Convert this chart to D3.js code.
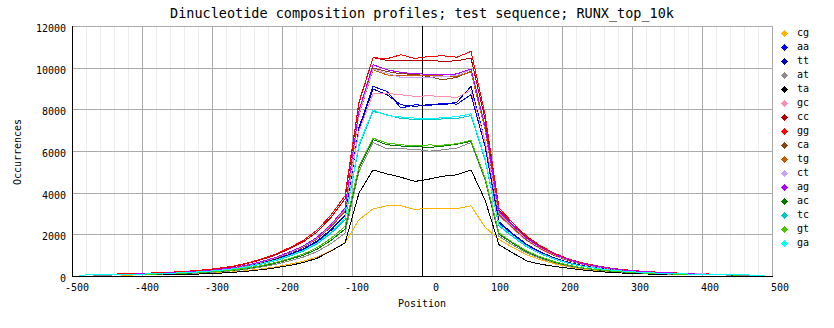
<!DOCTYPE html>
<html>
<head>
<meta charset="utf-8">
<script src="https://cdn.jsdelivr.net/npm/d3@7"></script>
<style>
  html, body { margin: 0; padding: 0; background: #ffffff; }
  svg { display: block; }
  text { font-family: "DejaVu Sans Mono", "Liberation Mono", monospace; fill: #000; }
</style>
</head>
<body>
<svg id="chart" width="834" height="328"></svg>
<script>
// Window centres (bp relative to the peak summit)
const positions = [-490, -470, -450, -430, -410, -390, -370, -350, -330, -310,
                   -290, -270, -250, -230, -210, -190, -170, -150, -130, -110,
                   -90, -70, -50, -30, -10, 10, 30, 50, 70, 90,
                   110, 130, 150, 170, 190, 210, 230, 250, 270, 290,
                   310, 330, 350, 370, 390, 410, 430, 450, 470, 490];

// Dinucleotide names, in legend order
const dinucleotides = ["cg", "aa", "tt", "at", "ta", "gc", "cc", "gg", "ca", "tg", "ct", "ag", "ac", "tc", "gt", "ga"];
const seriesColors = ["#ffb400", "#0000ff", "#0000b4", "#8c8c8c", "#000000", "#ff8cb4", "#b40000", "#ff0000",
                      "#8c4614", "#c85a00", "#c8a0ff", "#b400ff", "#007800", "#00c8c8", "#46c800", "#00ffff"];

// Occurrences per window (null = no occurrence counted)
const cg = [null, null, null, 42, 48, 58, 69, 83, 101, 125, 155, 195, 256, 336, 432, 560, 704, 912, 1216,
            1600, 2700, 3220, 3370, 3370, 3190, 3260, 3260, 3230, 3370, 2350, 1750,
            1365, 1015, 770, 578, 438, 333, 263, 201, 161, 130, 105, null, null, null, null, null, null, null, null];
const aa = [null, null, 65, 76, 88, 106, 126, 153, 185, 229, 285, 359, 470, 617, 794, 1029, 1294, 1676, 2234,
            2940, 7129, 9100, 8860, 8060, 8220, 8180, 8300, 8250, 8700, 6236, 2540,
            1981, 1473, 1118, 838, 635, 483, 381, 292, 234, 188, 152, 127, 107, 91, 76, 66, 56, null, null];
const tt = [null, null, 63, 75, 86, 104, 124, 150, 181, 225, 279, 351, 461, 605, 778, 1008, 1267, 1642, 2189,
            2880, 7028, 8980, 8700, 8220, 8140, 8230, 8210, 8350, 9100, 6500, 2600,
            2028, 1508, 1144, 858, 650, 494, 390, 299, 239, 192, 156, 130, 109, 94, 78, 68, 57, null, null];
const at = [null, 39, 45, 53, 62, 74, 88, 107, 129, 160, 199, 250, 328, 431, 554, 718, 902, 1169, 1558,
            2050, 5015, 6410, 6100, 6100, 6090, 5990, 6060, 6140, 6410, 4606, 1900,
            1482, 1102, 836, 627, 475, 361, 285, 219, 175, 141, 114, 95, 80, 68, 57, 49, 42, 36, 30];
const ta = [null, null, null, null, null, null, 58, 70, 85, 105, 135, 175, 230, 300, 390, 500, 640, 850, 1200,
            1580, 3984, 5090, 4900, 4740, 4540, 4650, 4790, 4860, 5090, 3654, 1500,
            1100, 720, 560, 460, 370, 285, 220, 170, 135, 108, 88, 72, null, null, null, null, null, null, null];
const gc = [null, null, 69, 82, 95, 113, 135, 164, 198, 246, 306, 384, 504, 662, 851, 1103, 1386, 1796, 2394,
            3150, 6951, 8740, 8760, 8700, 8620, 8650, 8620, 8570, 8900, 6500, 2900,
            2262, 1682, 1276, 957, 725, 551, 435, 334, 267, 215, 174, 145, 122, 104, 87, 75, 64, null, null];
const cc = [null, null, null, 96, 111, 133, 159, 192, 233, 289, 359, 451, 592, 777, 999, 1295, 1628, 2109, 2812,
            3700, 8310, 10480, 10350, 10330, 10330, 10360, 10300, 10330, 10460, 7536, 3150,
            2457, 1827, 1386, 1040, 788, 599, 473, 362, 290, 233, 189, 158, 132, 113, null, null, null, null, null];
const gg = [null, null, 85, 100, 116, 139, 166, 200, 243, 300, 373, 470, 616, 809, 1040, 1348, 1694, 2195, 2926,
            3850, 8358, 10480, 10430, 10620, 10440, 10540, 10570, 10500, 10780, 7772, 3260,
            2543, 1891, 1434, 1076, 815, 619, 489, 375, 300, 241, 196, 163, 137, 117, 98, null, null, null, null];
const ca = [null, null, 68, 81, 93, 112, 133, 161, 195, 242, 301, 378, 496, 651, 837, 1085, 1364, 1767, 2356,
            3100, 7778, 9980, 9820, 9700, 9690, 9560, 9420, 9540, 9820, 7072, 2950,
            2301, 1711, 1298, 974, 738, 561, 443, 339, 271, 218, 177, 148, 124, 106, 89, 77, 65, null, null];
const tg = [null, null, 69, 82, 95, 113, 135, 164, 198, 246, 306, 384, 504, 662, 851, 1103, 1386, 1796, 2394,
            3150, 7740, 9900, 9650, 9600, 9620, 9620, 9600, 9600, 9780, 7068, 3000,
            2340, 1740, 1320, 990, 750, 570, 450, 345, 276, 222, 180, 150, 126, 108, 90, 78, 66, null, null];
const ct = [null, null, 70, 83, 96, 115, 138, 166, 202, 250, 310, 390, 512, 672, 864, 1120, 1408, 1824, 2432,
            3200, 7783, 9940, 9740, 9530, 9530, 9540, 9580, 9620, 9900, 7160, 3050,
            2379, 1769, 1342, 1007, 763, 580, 458, 351, 281, 226, 183, 153, 128, 110, 92, 79, 67, null, null];
const ag = [null, null, null, null, 98, 117, 140, 170, 205, 254, 316, 398, 522, 685, 880, 1141, 1434, 1858, 2478,
            3260, 7938, 10140, 9900, 9770, 9710, 9680, 9660, 9700, 9940, 7204, 3100,
            2418, 1798, 1364, 1023, 775, 589, 465, 357, 285, 229, 186, 155, 130, 112, null, null, null, null, null];
const ac = [null, null, 50, 59, 68, 81, 97, 117, 142, 176, 218, 275, 360, 473, 608, 788, 990, 1283, 1710,
            2250, 5174, 6550, 6300, 6240, 6220, 6170, 6230, 6330, 6460, 4676, 2000,
            1560, 1160, 880, 660, 500, 380, 300, 230, 184, 148, 120, 100, 84, 72, 60, 52, 44, null, null];
const tc = [null, null, 59, 70, 81, 97, 116, 140, 170, 211, 262, 329, 432, 567, 729, 945, 1188, 1539, 2052,
            2700, 6236, 7900, 7740, 7560, 7520, 7500, 7540, 7560, 7700, 5580, 2400,
            1872, 1392, 1056, 792, 600, 456, 360, 276, 221, 178, 144, 120, 101, 86, 72, 62, 53, null, null];
const gt = [null, null, 52, 62, 71, 86, 102, 124, 150, 186, 231, 290, 381, 500, 643, 833, 1047, 1357, 1809,
            2380, 5263, 6620, 6380, 6300, 6250, 6290, 6280, 6350, 6510, 4730, 2060,
            1607, 1195, 906, 680, 515, 391, 309, 237, 190, 152, 124, 103, 87, 74, 62, 54, 45, null, null];
const ga = [44, 53, 61, 72, 83, 100, 120, 145, 175, 217, 270, 339, 445, 584, 751, 973, 1223, 1585, 2113,
            2780, 6316, 7980, 7700, 7630, 7580, 7540, 7600, 7650, 7790, 5658, 2460,
            1919, 1427, 1082, 812, 615, 467, 369, 283, 226, 182, 148, 123, 103, 89, 74, 64, 54, 47, 39];

const seriesValues = [cg, aa, tt, at, ta, gc, cc, gg, ca, tg, ct, ag, ac, tc, gt, ga];

// Axis ticks
const xTickValues = [-500, -400, -300, -200, -100, 0, 100, 200, 300, 400, 500];
const yTickValues = [0, 2000, 4000, 6000, 8000, 10000, 12000];

const titleText = "Dinucleotide composition profiles; test sequence; RUNX_top_10k";
const xLabel = "Position";
const yLabel = "Occurrences";

const svg = d3.select("#chart");
svg.append("rect").attr("width", 834).attr("height", 328).attr("fill", "#ffffff");

const x = d3.scaleLinear().domain([-500, 500]).range([72, 772]);
const y = d3.scaleLinear().domain([0, 12000]).range([276, 26]);

const grid = svg.append("g").attr("shape-rendering", "crispEdges");

// minor vertical grid every 20 bp
grid.selectAll("line.minor")
  .data(x.ticks(50).filter(v => v % 100 !== 0))
  .join("line")
  .attr("x1", d => Math.round(x(d)) + 0.5).attr("x2", d => Math.round(x(d)) + 0.5)
  .attr("y1", y(12000)).attr("y2", y(0))
  .attr("stroke", "#ececec").attr("stroke-width", 1);

// major grid
grid.selectAll("line.vmajor")
  .data(xTickValues.filter(v => v !== -500 && v !== 0))
  .join("line")
  .attr("x1", d => Math.round(x(d)) + 0.5).attr("x2", d => Math.round(x(d)) + 0.5)
  .attr("y1", y(12000)).attr("y2", y(0))
  .attr("stroke", "#aaaaaa").attr("stroke-width", 1);

grid.selectAll("line.hmajor")
  .data(yTickValues.filter(v => v !== 0))
  .join("line")
  .attr("x1", x(-500)).attr("x2", x(500))
  .attr("y1", d => Math.round(y(d)) + 0.5).attr("y2", d => Math.round(y(d)) + 0.5)
  .attr("stroke", "#aaaaaa").attr("stroke-width", 1);

// zero line
grid.append("line")
  .attr("x1", Math.round(x(0)) + 0.5).attr("x2", Math.round(x(0)) + 0.5)
  .attr("y1", y(12000)).attr("y2", y(0))
  .attr("stroke", "#000").attr("stroke-width", 1);

// profiles
const line = d3.line()
  .defined(d => d !== null)
  .x((d, i) => x(positions[i]))
  .y(d => y(d));

svg.append("g")
  .selectAll("path")
  .data(seriesValues)
  .join("path")
  .attr("d", d => line(d))
  .attr("fill", "none")
  .attr("stroke", (d, i) => seriesColors[i])
  .attr("stroke-width", 1)
  .attr("shape-rendering", "crispEdges");

// axes
const axes = svg.append("g").attr("shape-rendering", "crispEdges");
axes.append("line")
  .attr("x1", x(-500) + 0.5).attr("x2", x(-500) + 0.5)
  .attr("y1", y(12000)).attr("y2", y(0) + 1)
  .attr("stroke", "#000");
axes.append("line")
  .attr("x1", x(-500)).attr("x2", x(500) + 1)
  .attr("y1", y(0) + 0.5).attr("y2", y(0) + 0.5)
  .attr("stroke", "#000");

svg.append("g").selectAll("text")
  .data(xTickValues)
  .join("text")
  .attr("x", d => x(d) + 17)
  .attr("y", 291)
  .attr("text-anchor", "end")
  .attr("font-size", "10px")
  .text(d => d);

svg.append("g").selectAll("text")
  .data(yTickValues)
  .join("text")
  .attr("x", 66)
  .attr("y", d => y(d) + 6)
  .attr("text-anchor", "end")
  .attr("font-size", "10px")
  .text(d => d);

svg.append("text")
  .attr("x", 422).attr("y", 18)
  .attr("text-anchor", "middle")
  .attr("font-size", "13.5px")
  .text(titleText);

svg.append("text")
  .attr("x", 422).attr("y", 307)
  .attr("text-anchor", "middle")
  .attr("font-size", "10px")
  .text(xLabel);

svg.append("text")
  .attr("transform", "translate(21,152) rotate(-90)")
  .attr("text-anchor", "middle")
  .attr("font-size", "10px")
  .text(yLabel);

// legend
const legend = svg.append("g");
const rows = legend.selectAll("g")
  .data(dinucleotides)
  .join("g")
  .attr("transform", (d, i) => `translate(784,${33 + i * 14})`);

rows.each(function (d, i) {
  const g = d3.select(this).attr("shape-rendering", "crispEdges");
  const c = seriesColors[i];
  g.append("rect").attr("x", -2).attr("y", -1).attr("width", 5).attr("height", 3).attr("fill", c);
  g.append("rect").attr("x", -1).attr("y", -2).attr("width", 3).attr("height", 5).attr("fill", c);
  g.append("rect").attr("x", -3).attr("y", 0).attr("width", 7).attr("height", 1).attr("fill", c);
  g.append("rect").attr("x", 0).attr("y", -3).attr("width", 1).attr("height", 7).attr("fill", c);
});

rows.append("text")
  .attr("x", 13)
  .attr("y", 3)
  .attr("font-size", "10px")
  .text(d => d);
</script>
</body>
</html>
